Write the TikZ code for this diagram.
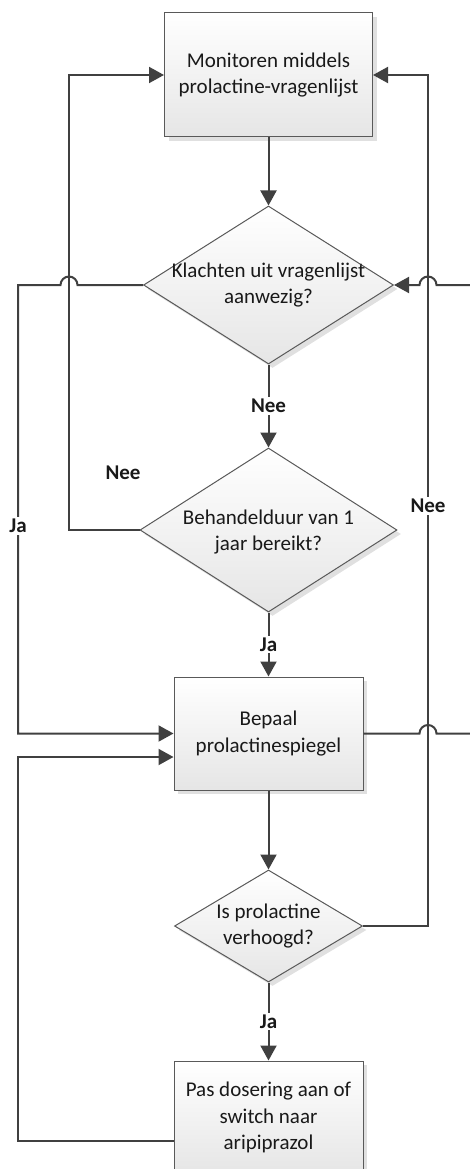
\documentclass[tikz,border=0pt]{standalone}
\usepackage{fontspec}
\setmainfont{Carlito}
\usetikzlibrary{arrows.meta,shapes.geometric,shadows}
\begin{document}
\begin{tikzpicture}[x=1pt,y=1pt,
  every node/.style={font=\fontsize{21}{26.5}\selectfont, text=black!90},
  base/.style={draw=black!65, line width=1pt, top color=white, bottom color=black!10,
    general shadow={fill=black!12, shadow xshift=4pt, shadow yshift=-4pt}},
  proc/.style={base, rectangle, align=center, inner sep=0pt},
  dec/.style={base, diamond, inner sep=0pt},
  dtext/.style={align=center, inner sep=0pt},
  conn/.style={draw=black!75, line width=2pt},
  arr/.style={conn, -{Triangle[length=15pt,width=16pt]}},
  lbl/.style={fill=white, inner sep=2pt, font=\fontsize{21}{26.5}\selectfont\bfseries}
]
\useasboundingbox (0,0) rectangle (469,-1169);

\node[proc, minimum width=208pt, minimum height=124pt] (b1) at (268.5,-75)
  {Monitoren middels\\prolactine-vragenlijst};
\node[dec, minimum width=250pt, minimum height=158pt] (d1) at (268.5,-285) {};
\node[dtext] (d1t) at (d1) {Klachten uit vragenlijst\\aanwezig?};
\node[dec, minimum width=257pt, minimum height=164pt] (d2) at (268.5,-530) {};
\node[dtext] (d2t) at (268.5,-532) {Behandelduur van 1\\jaar bereikt?};
\node[proc, minimum width=189pt, minimum height=113pt] (b2) at (268.5,-733.5)
  {Bepaal\\prolactinespiegel};
\node[dec, minimum width=188pt, minimum height=112pt] (d3) at (268.5,-926) {};
\node[dtext] (d3t) at (d3) {Is prolactine\\verhoogd?};
\node[proc, minimum width=189pt, minimum height=113pt] (b3) at (268.5,-1117.5)
  {Pas dosering aan of\\switch naar\\aripiprazol};

% main axis
\draw[arr] (b1) -- (d1);
\draw[arr] (d1) -- node[lbl] (n1) {Nee} (d2);
\draw[arr] (d2) -- node[lbl] (j1) {Ja} (b2);
\draw[arr] (b2) -- (d3);
\draw[arr] (d3) -- node[lbl] (j2) {Ja} (b3);

% Nee from d2 back to b1
\draw[arr] (d2.west) -- (69,-530) -- (69,-75) -- (b1.west);
\node[font=\fontsize{21}{26.5}\selectfont\bfseries, inner sep=0pt] (n2) at (123,-473) {Nee};

% Nee from d3 back to b1 (right)
\draw[arr] (d3.east) -- (428,-926) -- (428,-75) -- (b1.east);

% Ja from d1 to b2 (left), hop over x=69
\draw[arr] (d1.west) -- (77.5,-285) arc[start angle=0, end angle=180, radius=8.5pt]
  -- (18,-285) -- (18,-733.5) -- (b2.west);

% b2 right going off the picture and back into d1, hops over x=428
\draw[arr] (b2.east) -- (419.5,-733.5) arc[start angle=180, end angle=0, radius=8.5pt]
  -- (490,-733.5) -- (490,-285) -- (436.5,-285) arc[start angle=0, end angle=180, radius=8.5pt]
  -- (d1.east);

% loop from b3 back to b2
\draw[arr] (b3.west |- 0,-1141) -- (18,-1141) -- (18,-757) -- (b2.west |- 0,-757);

% labels on vertical lines
\node[lbl] (j3) at (18,-526) {Ja};
\node[lbl] (n3) at (428,-506) {Nee};
\end{tikzpicture}
\end{document}
